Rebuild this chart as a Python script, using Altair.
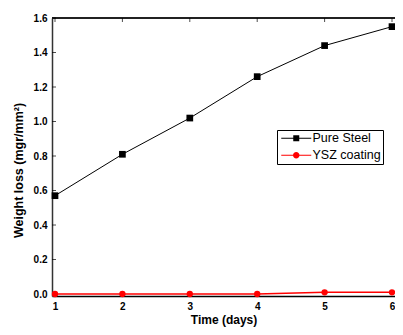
import altair as alt
import pandas as pd

days = [1, 2, 3, 4, 5, 6]
pure_steel = [0.57, 0.81, 1.02, 1.26, 1.44, 1.55]
ysz_coating = [0.0, 0.0, 0.0, 0.0, 0.01, 0.01]
series = ["Pure Steel", "YSZ coating"]
colors = ["black", "red"]
y_ticks = [0.0, 0.2, 0.4, 0.6, 0.8, 1.0, 1.2, 1.4, 1.6]

FONT = "Liberation Sans"
W, H = 343, 278

df_steel = pd.DataFrame({"day": days, "loss": pure_steel})
df_ysz = pd.DataFrame({"day": days, "loss": ysz_coating})
df_legend = pd.DataFrame({"series": series, "day": [3, 3], "loss": [-1, -1]})
df_yticks = pd.DataFrame({"loss": y_ticks})
df_xticks = pd.DataFrame({"day": days})

x_scale = alt.Scale(domain=[0.9555, 6.0445], nice=False, zero=False)
y_scale = alt.Scale(domain=[-0.0115, 1.6], nice=False, zero=False)

x_enc = alt.X(
    "day:Q", scale=x_scale,
    axis=alt.Axis(values=days, format="d", tickSize=0, labelPadding=5,
                  domainColor="black", domainWidth=1.5, grid=False,
                  title="Time (days)", titlePadding=3),
)
y_enc = alt.Y(
    "loss:Q", scale=y_scale,
    axis=alt.Axis(values=y_ticks, format=".1f", tickSize=0, labelPadding=5,
                  domainColor="#333333", domainWidth=1.5, grid=False,
                  title="Weight loss (mgr/mm²)", titlePadding=8, titleY=152,
                  titleFontSize=12.5),
)

steel_line = alt.Chart(df_steel).mark_line(color="black", strokeWidth=1).encode(x=x_enc, y=y_enc)
steel_pts = alt.Chart(df_steel).mark_point(shape="square", filled=True, color="black", size=45, opacity=1).encode(x=x_enc, y=y_enc)
ysz_line = alt.Chart(df_ysz).mark_line(color="red", strokeWidth=1.5).encode(x=x_enc, y=y_enc)
ysz_pts = alt.Chart(df_ysz).mark_point(shape="circle", filled=True, color="red", size=40, opacity=1).encode(x=x_enc, y=y_enc)

path_sq = "M-3,-0.1H3V0.1H-3Z M-0.6,-0.6H0.6V0.6H-0.6Z"
path_circ = "M-3,-0.12H3V0.12H-3Z M0.65,0A0.65,0.65 0 1,1 -0.65,0A0.65,0.65 0 1,1 0.65,0Z"

leg = alt.Legend(
    title=None, orient="none", legendX=225, legendY=112,
    strokeColor="black", fillColor="white", padding=2,
    symbolSize=100, symbolOffset=11, labelOffset=10,
    labelFont=FONT, labelFontSize=12.5, labelColor="black",
    rowPadding=4, symbolStrokeWidth=0,
)
legend_layer = alt.Chart(df_legend).mark_point(filled=True, opacity=1, clip=True).encode(
    x=x_enc, y=y_enc,
    color=alt.Color("series:N", scale=alt.Scale(domain=series, range=colors), legend=leg),
    shape=alt.Shape("series:N", scale=alt.Scale(domain=series, range=[path_sq, path_circ]), legend=leg),
)

yticks = alt.Chart(df_yticks).mark_tick(color="black", size=4, thickness=1, orient="horizontal").encode(
    y=y_enc, x=alt.value(2)
)
xticks = alt.Chart(df_xticks).mark_tick(color="black", size=4, thickness=1, orient="vertical").encode(
    x=x_enc, y=alt.value(2)
)
top_line = alt.Chart(df_xticks).mark_rule(color="#222222", strokeWidth=1.5).encode(
    y=alt.value(0), x=alt.value(0), x2=alt.value(W)
)

chart = alt.layer(
    top_line, yticks, xticks, steel_line, steel_pts, ysz_line, ysz_pts, legend_layer
).properties(
    width=W, height=H,
    padding={"left": 44, "top": 10, "right": 0, "bottom": 31},
    autosize=alt.AutoSizeParams(type="none"),
).configure_view(stroke=None).configure_axis(
    labelFont=FONT, labelFontWeight="bold", labelFontSize=10, labelColor="black",
    titleFont=FONT, titleFontWeight="bold", titleFontSize=12, titleColor="black",
)

chart.save("out.html", embed_options={"renderer": "svg", "actions": False})
